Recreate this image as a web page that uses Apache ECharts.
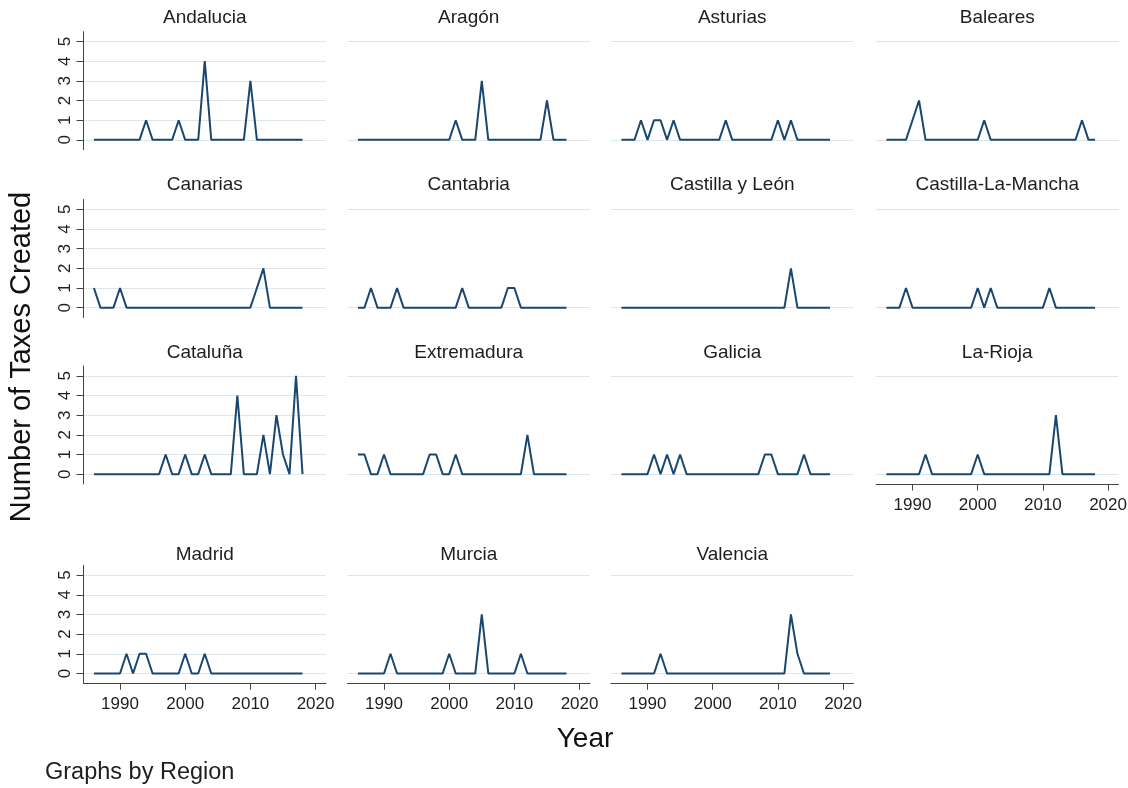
<!DOCTYPE html>
<html><head><meta charset="utf-8">
<script src="https://cdn.jsdelivr.net/npm/echarts@6/dist/echarts.min.js"></script>
<style>html,body{margin:0;padding:0;background:#fff}#c{width:1128px;height:788px}</style>
</head><body><div id="c"></div>
<script>
// ---- data ----
const years = [1986,1987,1988,1989,
  1990,1991,1992,1993,1994,1995,1996,1997,1998,1999,
  2000,2001,2002,2003,2004,2005,2006,2007,2008,2009,
  2010,2011,2012,2013,2014,2015,2016,2017,2018];
const regions = ['Andalucia','Aragón','Asturias','Baleares',
  'Canarias','Cantabria','Castilla y León','Castilla-La-Mancha',
  'Cataluña','Extremadura','Galicia','La-Rioja',
  'Madrid','Murcia','Valencia'];
//                    1986-89    1990-1999            2000-2009            2010-2018
const andalucia   = [0,0,0,0, 0,0,0,0,1,0,0,0,0,1, 0,0,0,4,0,0,0,0,0,0, 3,0,0,0,0,0,0,0,0];
const aragon      = [0,0,0,0, 0,0,0,0,0,0,0,0,0,0, 0,1,0,0,0,3,0,0,0,0, 0,0,0,0,0,2,0,0,0];
const asturias    = [0,0,0,1, 0,1,1,0,1,0,0,0,0,0, 0,0,1,0,0,0,0,0,0,0, 1,0,1,0,0,0,0,0,0];
const baleares    = [0,0,0,0, 1,2,0,0,0,0,0,0,0,0, 0,1,0,0,0,0,0,0,0,0, 0,0,0,0,0,0,1,0,0];
const canarias    = [1,0,0,0, 1,0,0,0,0,0,0,0,0,0, 0,0,0,0,0,0,0,0,0,0, 0,1,2,0,0,0,0,0,0];
const cantabria   = [0,0,1,0, 0,0,1,0,0,0,0,0,0,0, 0,0,1,0,0,0,0,0,0,1, 1,0,0,0,0,0,0,0,0];
const castillaLeon= [0,0,0,0, 0,0,0,0,0,0,0,0,0,0, 0,0,0,0,0,0,0,0,0,0, 0,0,2,0,0,0,0,0,0];
const castillaLM  = [0,0,0,1, 0,0,0,0,0,0,0,0,0,0, 1,0,1,0,0,0,0,0,0,0, 0,1,0,0,0,0,0,0,0];
const cataluna    = [0,0,0,0, 0,0,0,0,0,0,0,1,0,0, 1,0,0,1,0,0,0,0,4,0, 0,0,2,0,3,1,0,5,0];
const extremadura = [1,1,0,0, 1,0,0,0,0,0,0,1,1,0, 0,1,0,0,0,0,0,0,0,0, 0,0,2,0,0,0,0,0,0];
const galicia     = [0,0,0,0, 0,1,0,1,0,1,0,0,0,0, 0,0,0,0,0,0,0,0,1,1, 0,0,0,0,1,0,0,0,0];
const laRioja     = [0,0,0,0, 0,0,1,0,0,0,0,0,0,0, 1,0,0,0,0,0,0,0,0,0, 0,0,3,0,0,0,0,0,0];
const madrid      = [0,0,0,0, 0,1,0,1,1,0,0,0,0,0, 1,0,0,1,0,0,0,0,0,0, 0,0,0,0,0,0,0,0,0];
const murcia      = [0,0,0,0, 0,1,0,0,0,0,0,0,0,0, 1,0,0,0,0,3,0,0,0,0, 0,1,0,0,0,0,0,0,0];
const valencia    = [0,0,0,0, 0,0,1,0,0,0,0,0,0,0, 0,0,0,0,0,0,0,0,0,0, 0,0,3,1,0,0,0,0,0];
const seriesValues = [andalucia,aragon,asturias,baleares,canarias,cantabria,castillaLeon,castillaLM,
  cataluna,extremadura,galicia,laRioja,madrid,murcia,valencia];
const xTickLabels = [1990,2000,2010,2020];
const yTickLabels = [0,1,2,3,4,5];
const yOuterGrid = [0,5];

// ---- layout ----
const colLeft = [83.5, 347.5, 611, 876];
const rowTop = [31.7, 199.5, 366, 565.3];
const rowTitleY = [17.3, 185, 352.6, 554.5];
const gw = 242.5, gh = 118;
const FONT = "'Liberation Sans', Arial, sans-serif";
const lineColor = '#1a476f', gridColor = '#dde7eb', axisColor = '#444', textColor = '#1e1e1e';

const grids = [], xAxes = [], yAxes = [], series = [], graphics = [];
regions.forEach((name, i) => {
  const r = Math.floor(i / 4), c = i % 4;
  const isLeft = c === 0, isBottom = i >= 11;
  grids.push({left: colLeft[c], top: rowTop[r], width: gw, height: gh, containLabel: false, outerBoundsMode: 'none'});
  xAxes.push({
    type: 'value', gridIndex: i, min: 1984.4, max: 2021.6, position: 'bottom',
    axisLine: {show: isBottom, onZero: false, lineStyle: {color: axisColor, width: 1}},
    axisTick: {show: isBottom, customValues: xTickLabels, length: 6.5, lineStyle: {color: axisColor, width: 1}},
    axisLabel: {show: isBottom, customValues: xTickLabels, margin: 13, fontSize: 17, color: textColor, fontFamily: FONT,
      formatter: v => String(v)},
    splitLine: {show: false}
  });
  yAxes.push({
    type: 'value', gridIndex: i, min: -0.5, max: 5.5, position: 'left',
    axisLine: {show: isLeft, onZero: false, lineStyle: {color: axisColor, width: 1}},
    axisTick: {show: isLeft, customValues: isLeft ? yTickLabels : yOuterGrid, length: 7, lineStyle: {color: axisColor, width: 1}},
    axisLabel: {show: isLeft, customValues: yTickLabels, rotate: 90, margin: 10, fontSize: 17, color: textColor, fontFamily: FONT,
      formatter: v => String(v)},
    splitLine: {show: true, lineStyle: {color: gridColor, width: 1}}
  });
  series.push({
    type: 'line', name: name, xAxisIndex: i, yAxisIndex: i,
    data: years.map((y, k) => [y, seriesValues[i][k]]),
    symbol: 'none', showSymbol: false, animation: false,
    lineStyle: {color: lineColor, width: 2}
  });
  graphics.push({
    type: 'text', x: colLeft[c] + gw / 2, y: rowTitleY[r],
    style: {text: name, font: '19px ' + FONT, fill: textColor,
      textAlign: 'center', textVerticalAlign: 'middle', align: 'center', verticalAlign: 'middle'}
  });
});
graphics.push({
  type: 'text', x: 22, y: 357, rotation: Math.PI / 2,
  style: {text: 'Number of Taxes Created', font: '29px ' + FONT, fill: '#111',
    textAlign: 'center', textVerticalAlign: 'middle', align: 'center', verticalAlign: 'middle'}
});
graphics.push({
  type: 'text', x: 585, y: 739,
  style: {text: 'Year', font: '28px ' + FONT, fill: '#111',
    textAlign: 'center', textVerticalAlign: 'middle', align: 'center', verticalAlign: 'middle'}
});
graphics.push({
  type: 'text', x: 45, y: 773,
  style: {text: 'Graphs by Region', font: '23.5px ' + FONT, fill: textColor,
    textAlign: 'left', textVerticalAlign: 'middle', align: 'left', verticalAlign: 'middle'}
});

const chart = echarts.init(document.getElementById('c'), null, {renderer: 'canvas'});
chart.setOption({
  backgroundColor: '#fff',
  animation: false,
  grid: grids, xAxis: xAxes, yAxis: yAxes, series: series,
  graphic: {elements: graphics}
});
</script></body></html>
